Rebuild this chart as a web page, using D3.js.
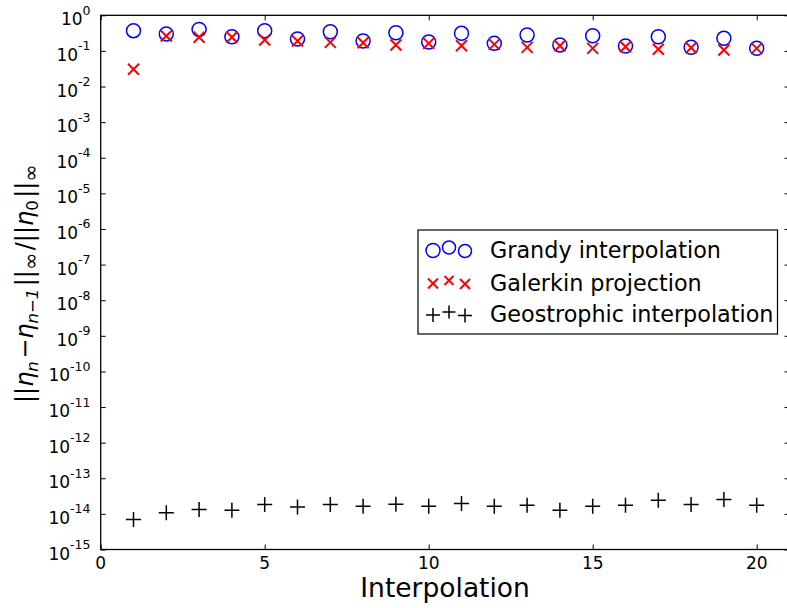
<!DOCTYPE html>
<html>
<head>
<meta charset="utf-8">
<script src="https://cdn.jsdelivr.net/npm/d3@7"></script>
<style>
    body { margin: 0; background: #fff; }
    svg { display: block; font-family: "DejaVu Sans", sans-serif; }
</style>
</head>
<body>
<div id="chart"></div>
<script>
let iterations = [1, 2, 3, 4, 5, 6, 7, 8, 9, 10, 11, 12, 13, 14, 15, 16, 17, 18, 19, 20];
let grandy = [0.37, 0.30, 0.40, 0.25, 0.37, 0.216, 0.346, 0.19, 0.324, 0.178,
              0.312, 0.163, 0.28, 0.147, 0.267, 0.137, 0.25, 0.126, 0.226, 0.118];
let galerkin = [0.0304, 0.262, 0.241, 0.241, 0.202, 0.19, 0.174, 0.17, 0.147, 0.163,
                0.14, 0.153, 0.126, 0.14, 0.118, 0.131, 0.111, 0.123, 0.106, 0.118];
let geostrophic = [6.97e-15, 1.07e-14, 1.33e-14, 1.27e-14, 1.84e-14, 1.57e-14, 1.84e-14, 1.64e-14, 1.87e-14, 1.64e-14,
                   1.96e-14, 1.64e-14, 1.75e-14, 1.27e-14, 1.64e-14, 1.75e-14, 2.43e-14, 1.84e-14, 2.54e-14, 1.75e-14];
let xTicks = [0, 5, 10, 15, 20];
let yExponents = d3.range(-15, 1);
let legendLabels = ["Grandy interpolation", "Galerkin projection", "Geostrophic interpolation"];

let svg = d3.select("#chart").append("svg")
    .attr("width", 787)
    .attr("height", 608);

let xScale = d3.scaleLinear().domain([0, 21]).range([100.7, 789.5]);
let yScale = d3.scaleLog().domain([1e-15, 1]).range([549.5, 15.3]);

let plotLeft = xScale(0), plotRight = xScale(21), plotTop = yScale(1), plotBottom = yScale(1e-15);
let yTickValues = yExponents.map(function (e) { return Math.pow(10, e); });

// ticks pointing inward on all four sides
svg.append("g")
    .attr("transform", "translate(0," + plotBottom + ")")
    .call(d3.axisBottom(xScale).tickValues(xTicks).tickSize(-5).tickFormat(""));
svg.append("g")
    .attr("transform", "translate(0," + plotTop + ")")
    .call(d3.axisTop(xScale).tickValues(xTicks).tickSize(-5).tickFormat(""));
svg.append("g")
    .attr("transform", "translate(" + plotLeft + ",0)")
    .call(d3.axisLeft(yScale).tickValues(yTickValues).tickSize(-5).tickFormat(""));
svg.append("g")
    .attr("transform", "translate(" + plotRight + ",0)")
    .call(d3.axisRight(yScale).tickValues(yTickValues).tickSize(-5).tickFormat(""));
svg.selectAll(".domain").remove();
svg.selectAll(".tick line").attr("stroke", "#000").attr("stroke-width", 1);

svg.append("rect")
    .attr("x", plotLeft).attr("y", plotTop)
    .attr("width", plotRight - plotLeft).attr("height", plotBottom - plotTop)
    .attr("fill", "none").attr("stroke", "#000").attr("stroke-width", 1.3);

// x tick labels
svg.selectAll(".xlab")
    .data(xTicks)
    .enter().append("text")
    .attr("x", function (d) { return xScale(d); })
    .attr("y", plotBottom + 19.5)
    .attr("text-anchor", "middle")
    .attr("font-size", 17)
    .text(function (d) { return d; });

// y tick labels 10^e
let ylab = svg.selectAll(".ylab")
    .data(yExponents)
    .enter().append("text")
    .attr("x", 90.5)
    .attr("y", function (d) { return yScale(Math.pow(10, d)) + 10; })
    .attr("text-anchor", "end")
    .attr("font-size", 17);
ylab.append("tspan").text("10");
ylab.append("tspan")
    .attr("font-size", 12.5)
    .attr("dy", -10.5)
    .text(function (d) { return d === 0 ? "0" : "-" + Math.abs(d); });

svg.append("text")
    .attr("x", (plotLeft + plotRight) / 2)
    .attr("y", 596.5)
    .attr("text-anchor", "middle")
    .attr("font-size", 26.5)
    .text("Interpolation");

// y axis title in math notation
let ytitle = svg.append("text")
    .attr("transform", "translate(33," + ((plotTop + plotBottom) / 2) + ") rotate(-90)")
    .attr("text-anchor", "middle")
    .attr("font-size", 24);
function part(t, italic) {
    ytitle.append("tspan").attr("font-style", italic ? "italic" : "normal").text(t);
}
function sub(t, italic, size) {
    ytitle.append("tspan").attr("font-size", size || 16.5).attr("dy", 5).attr("font-style", italic ? "italic" : "normal").text(t);
    ytitle.append("tspan").attr("dy", -5).text("\u200a");
}
part("||");
part("\u03b7", true); sub("n", true);
part("\u2212");
part("\u03b7", true); sub("n\u22121", true);
part("||"); sub("\u221e", false, 21);
part("/||");
part("\u03b7", true); sub("0");
part("||"); sub("\u221e", false, 21);

// markers
let plot = svg.append("g");

plot.selectAll(".grandy")
    .data(iterations)
    .enter().append("circle")
    .attr("cx", function (d) { return xScale(d); })
    .attr("cy", function (d, i) { return yScale(grandy[i]); })
    .attr("r", 7)
    .attr("fill", "none")
    .attr("stroke", "#0000ff")
    .attr("stroke-width", 1.5);

function crossPath(s) {
    return "M" + (-s) + "," + (-s) + "L" + s + "," + s + "M" + (-s) + "," + s + "L" + s + "," + (-s);
}
function plusPath(s) {
    return "M" + (-s) + ",0L" + s + ",0M0," + (-s) + "L0," + s;
}

plot.selectAll(".galerkin")
    .data(iterations)
    .enter().append("path")
    .attr("transform", function (d, i) { return "translate(" + xScale(d) + "," + yScale(galerkin[i]) + ")"; })
    .attr("d", crossPath(5.5))
    .attr("stroke", "#ff0000")
    .attr("stroke-width", 2);

plot.selectAll(".geo")
    .data(iterations)
    .enter().append("path")
    .attr("transform", function (d, i) { return "translate(" + xScale(d) + "," + yScale(geostrophic[i]) + ")"; })
    .attr("d", plusPath(7.5))
    .attr("stroke", "#000")
    .attr("stroke-width", 1.5);

// legend
let legend = svg.append("g");
legend.append("rect")
    .attr("x", 418).attr("y", 230)
    .attr("width", 359.5).attr("height", 104)
    .attr("fill", "#fff").attr("stroke", "#000").attr("stroke-width", 1.2);

let markerX = [433, 449, 465];
let markerDy = [1, -2, 1.5];
let rowY = [249.5, 282.5, 314];

legendLabels.forEach(function (label, row) {
    legend.append("text")
        .attr("x", 490)
        .attr("y", rowY[row] + 8)
        .attr("font-size", 22.3)
        .text(label);
    markerX.forEach(function (mx, k) {
        let my = rowY[row] + markerDy[k];
        if (row === 0) {
            legend.append("circle")
                .attr("cx", mx).attr("cy", my).attr("r", k === 0 ? 7 : 6.5)
                .attr("fill", "none").attr("stroke", "#0000ff").attr("stroke-width", 1.5);
        } else if (row === 1) {
            legend.append("path")
                .attr("transform", "translate(" + mx + "," + my + ")")
                .attr("d", crossPath(k === 1 ? 4.5 : 5))
                .attr("stroke", "#ff0000").attr("stroke-width", 2);
        } else {
            legend.append("path")
                .attr("transform", "translate(" + mx + "," + my + ")")
                .attr("d", plusPath(k === 1 ? 6.5 : 7))
                .attr("stroke", "#000").attr("stroke-width", 1.5);
        }
    });
});
</script>
</body>
</html>
